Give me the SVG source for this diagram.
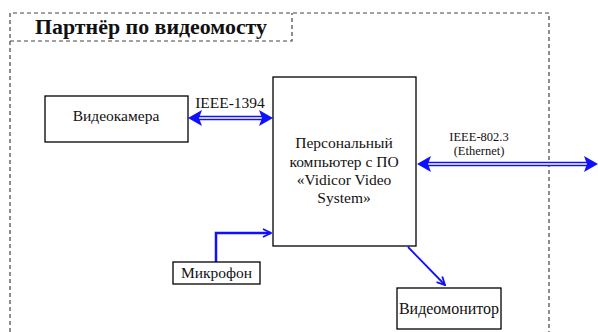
<svg xmlns="http://www.w3.org/2000/svg" width="598" height="332" viewBox="0 0 598 332">
<style>
.box{fill:#fff;stroke:#000;stroke-width:1.3}
.dash{fill:none;stroke:#444;stroke-width:1.2;stroke-dasharray:4 3}
text{font-family:'Liberation Serif','Times New Roman','DejaVu Serif',serif}
.t{font-size:15.5px;fill:#111;text-anchor:middle}
.s{font-size:12.5px;fill:#111;text-anchor:middle}
.title{font-size:21px;font-weight:bold;fill:#111}
.dbl{stroke:#1010ff;stroke-width:4.5;fill:none}
.gap{stroke:#fff;stroke-width:1.3;fill:none}
.ln{stroke:#1010ff;fill:none}
.head{fill:#1010ff}
</style>
<defs>
<marker id="op" viewBox="0 0 10 10" refX="9" refY="5" markerWidth="10" markerHeight="10" markerUnits="userSpaceOnUse" orient="auto">
<path d="M1,1 L9,5 L1,9" fill="none" stroke="#1010ff" stroke-width="1.8"/>
</marker>
</defs>
<g id="frame">
<path class="dash" d="M10,332 V13 H549 V332"/>
<path class="dash" d="M10,41 H292 V13"/>
<text class="title" x="35" y="34" textLength="232" lengthAdjust="spacingAndGlyphs">Партнёр по видеомосту</text>
</g>
<g id="connectors">
<line class="dbl" x1="198" y1="118" x2="262" y2="118"/>
<line class="gap" x1="198" y1="118" x2="262" y2="118"/>
<polygon class="head" points="188,118 202,110 199,118 202,126"/>
<polygon class="head" points="273,118 259,110 262,118 259,126"/>
<text class="t" x="230" y="108">IEEE-1394</text>
<line class="dbl" x1="427" y1="164" x2="587" y2="164"/>
<line class="gap" x1="427" y1="164" x2="587" y2="164"/>
<polygon class="head" points="417,164 431,156 428,164 431,172"/>
<polygon class="head" points="598,164 584,156 587,164 584,172"/>
<text class="s" x="479" y="141">IEEE-802.3</text>
<text class="s" x="479" y="155">(Ethernet)</text>
<polyline class="ln" stroke-width="2.5" points="216,262 216,233 271,233" marker-end="url(#op)"/>
<line class="ln" stroke-width="1.8" x1="408" y1="247" x2="445" y2="285" marker-end="url(#op)"/>
</g>
<g id="camera">
<rect class="box" x="45" y="96" width="143" height="46"/>
<text class="t" x="116" y="121">Видеокамера</text>
</g>
<g id="pc">
<rect class="box" x="273" y="77" width="143" height="169"/>
<text class="t" x="344" y="148">Персональный</text>
<text class="t" x="344" y="167">компьютер с ПО</text>
<text class="t" x="344" y="185">«Vidicor Video</text>
<text class="t" x="344" y="203">System»</text>
</g>
<g id="mic">
<rect class="box" x="173" y="262" width="87" height="22"/>
<text class="t" x="216.5" y="278">Микрофон</text>
</g>
<g id="monitor">
<rect class="box" x="397" y="288" width="104" height="41"/>
<text class="t" x="449" y="314" style="font-size:16px">Видеомонитор</text>
</g>
</svg>
